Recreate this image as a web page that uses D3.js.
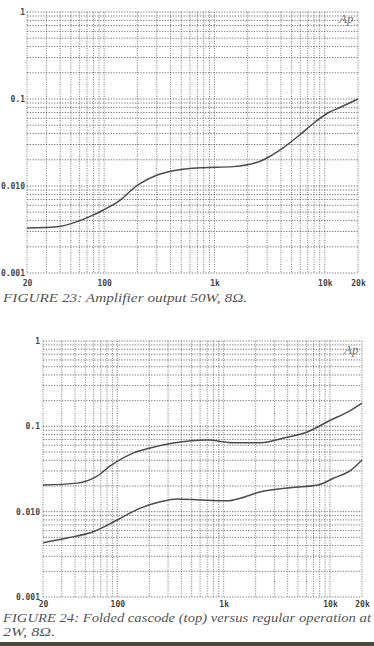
<!DOCTYPE html>
<html><head><meta charset="utf-8">
<script src="https://cdn.jsdelivr.net/npm/d3@7"></script>
<style>html,body{margin:0;padding:0;background:#fff;}svg{display:block;}</style>
</head><body>
<script>
// ---- data ----
const xTickValues = [20, 100, 1000, 10000, 20000];
const xTickLabels = ["20", "100", "1k", "10k", "20k"];
const yTickValues = [1, 0.1, 0.01, 0.001];
const yTickLabels = ["1", "0.1", "0.010", "0.001"];

// Figure 23: amplifier output 50W, 8 ohm
const fig23Freq = [20, 37.5, 57, 74, 98.5, 140, 200, 303, 424, 748, 1480, 2625, 4160, 6066, 7960, 10670, 14000, 20000];
const fig23Thd  = [0.00329, 0.0034, 0.0039, 0.00444, 0.0053, 0.0069, 0.0102, 0.0134, 0.015, 0.0162, 0.0167, 0.0194, 0.0273, 0.0396, 0.053, 0.069, 0.081, 0.1];

// Figure 24: folded cascode (top) vs regular (bottom), 2W 8 ohm
const fig24TopFreq = [20, 41.9, 64.6, 85.7, 141, 204, 337, 705, 1240, 2228, 3673, 6183, 10200, 14770, 20000];
const fig24TopThd  = [0.0205, 0.0216, 0.0261, 0.0343, 0.0486, 0.0557, 0.0637, 0.069, 0.0643, 0.0643, 0.073, 0.0865, 0.1186, 0.148, 0.1875];
const fig24BotFreq = [20, 33.7, 59.3, 99.8, 164.5, 254, 367, 606, 1089, 1443, 2228, 4006, 7690, 10890, 15740, 20000];
const fig24BotThd  = [0.00432, 0.00491, 0.00581, 0.00798, 0.011, 0.01306, 0.01406, 0.01368, 0.0134, 0.0144, 0.0171, 0.0189, 0.0205, 0.0248, 0.0307, 0.0403];

const caption23 = "FIGURE 23: Amplifier output 50W, 8\u03A9.";
const caption24a = "FIGURE 24: Folded cascode (top) versus regular operation at";
const caption24b = "2W, 8\u03A9.";

// ---- drawing ----
const W = 374, H = 646;
const svg = d3.select("body").append("svg").attr("width", W).attr("height", H);
svg.append("rect").attr("width", W).attr("height", H).attr("fill", "#fff");

function minorValues(lo, hi) {
  const out = [];
  for (let d = Math.floor(Math.log10(lo)); d <= Math.ceil(Math.log10(hi)); d++) {
    for (let m = 1; m <= 9; m++) {
      const v = m * Math.pow(10, d);
      if (v >= lo * 0.9999 && v <= hi * 1.0001) out.push(v);
    }
  }
  return out;
}

function drawChart(cfg) {
  const x = d3.scaleLog().domain([20, 20000]).range([cfg.left, cfg.right]);
  const y = d3.scaleLog().domain([0.001, 1]).range([cfg.bottom, cfg.top]);
  const g = svg.append("g");

  // grid
  const xs = minorValues(20, 20000);
  const ys = minorValues(0.001, 1);
  g.selectAll(".vg").data(xs).join("line")
    .attr("x1", d => x(d)).attr("x2", d => x(d))
    .attr("y1", cfg.top).attr("y2", cfg.bottom)
    .attr("stroke", "#5a5a5a").attr("stroke-width", 1)
    .attr("stroke-dasharray", "1,1.4").attr("opacity", 0.8);
  g.selectAll(".hg").data(ys).join("line")
    .attr("y1", d => y(d)).attr("y2", d => y(d))
    .attr("x1", cfg.left).attr("x2", cfg.right)
    .attr("stroke", "#5a5a5a").attr("stroke-width", 1)
    .attr("stroke-dasharray", "1.3,1.4").attr("opacity", 0.8);

  // axes (labels only)
  const xAxis = d3.axisBottom(x).tickValues(xTickValues)
    .tickFormat((d, i) => xTickLabels[i]).tickSize(0).tickPadding(0);
  const xa = g.append("g").attr("transform", `translate(0,${cfg.bottom + cfg.xLabelDy})`).call(xAxis);
  xa.select(".domain").remove();
  xa.selectAll("text").attr("font-family", "DejaVu Sans Mono").attr("font-weight", "bold")
    .attr("font-size", 8).attr("fill", "#444").attr("dy", 0);

  const yAxis = d3.axisLeft(y).tickValues(yTickValues)
    .tickFormat((d, i) => yTickLabels[i]).tickSize(0).tickPadding(cfg.yLabelPad);
  const ya = g.append("g").attr("transform", `translate(${cfg.left},0)`).call(yAxis);
  ya.select(".domain").remove();
  ya.selectAll("text").attr("font-family", "DejaVu Sans Mono").attr("font-weight", "bold")
    .attr("font-size", 8).attr("fill", "#444");

  // Ap logo
  g.append("text").attr("x", cfg.apX).attr("y", cfg.apY)
    .attr("font-family", "Liberation Serif").attr("font-style", "italic")
    .attr("font-size", 13).attr("fill", "#777").text("Ap");

  // curves
  const line = d3.line().x(d => x(d[0])).y(d => y(d[1])).curve(d3.curveMonotoneX);
  cfg.series.forEach(s => {
    g.append("path").datum(d3.zip(s.f, s.v)).attr("d", line)
      .attr("fill", "none").attr("stroke", "#3a3a3a").attr("stroke-width", 1.5)
      .attr("opacity", 0.9);
  });
}

drawChart({
  left: 27, right: 358, top: 12, bottom: 273, xLabelDy: 13, yLabelPad: 2,
  apX: 339, apY: 23,
  series: [{ f: fig23Freq, v: fig23Thd }]
});
drawChart({
  left: 43, right: 362, top: 341, bottom: 597, xLabelDy: 10, yLabelPad: 3,
  apX: 344, apY: 354,
  series: [{ f: fig24TopFreq, v: fig24TopThd }, { f: fig24BotFreq, v: fig24BotThd }]
});

// captions
function caption(txt, xx, yy, len) {
  svg.append("text").attr("x", xx).attr("y", yy)
    .attr("font-family", "Liberation Serif").attr("font-style", "italic")
    .attr("font-size", 12).attr("fill", "#555")
    .attr("textLength", len).attr("lengthAdjust", "spacingAndGlyphs")
    .text(txt);
}
caption(caption23, 3, 302, 244);
caption(caption24a, 3, 622, 368);
caption(caption24b, 3, 636, 52);

// scan edge at the bottom
svg.append("rect").attr("x", 0).attr("y", 642).attr("width", W).attr("height", 4).attr("fill", "#4a4a38");
</script>
</body></html>
